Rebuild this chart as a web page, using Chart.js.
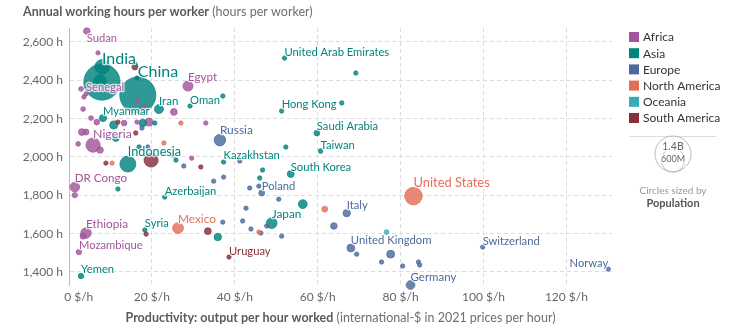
<!DOCTYPE html>
<html>
<head>
<meta charset="utf-8">
<script src="https://cdn.jsdelivr.net/npm/chart.js@4.4.1/dist/chart.umd.min.js"></script>
<style>
  html, body { margin: 0; background: #fff; }
  #wrap { width: 737px; height: 335px; position: relative; }
</style>
</head>
<body>
<div id="wrap"><canvas id="chart" width="737" height="335"></canvas></div>
<script>
// ---- data: [productivity $/h, hours per worker, population (M), label]
const africa = [
  [4.3, 2657, 47, "Sudan"], [7.0, 2543, 17, null], [28.7, 2370, 110, "Egypt"],
  [4.1, 2329, 17, "Senegal"], [2.9, 2355, 25, null], [3.6, 2313, 17, null],
  [3.4, 2250, 25, null], [16.6, 2292, 20, null], [18.1, 2261, 15, null],
  [25.3, 2235, 50, null], [5.3, 2203, 25, null], [6.7, 2182, 35, null],
  [13.3, 2177, 35, null], [16.4, 2182, 15, null], [19.3, 2182, 70, null],
  [33.0, 2177, 15, null], [3.1, 2130, 50, null], [4.1, 2130, 40, null],
  [5.8, 2062, 220, "Nigeria"], [7.5, 2036, 45, null], [2.2, 2068, 25, null],
  [29.6, 1994, 17, null], [1.4, 1843, 100, "DR Congo"], [1.4, 1801, 30, null],
  [4.1, 1603, 120, "Ethiopia"], [3.4, 1587, 40, null], [2.4, 1504, 33, "Mozambique"],
];
const asia = [
  [7.95, 2391, 1420, "India"], [16.6, 2323, 1410, "China"], [8.0, 2470, 235, null],
  [7.5, 2396, 170, null], [15.9, 2485, 17, null], [16.4, 2412, 17, null],
  [21.7, 2250, 88, "Iran"], [29.2, 2266, 17, "Oman"], [37.1, 2318, 17, null],
  [8.2, 2203, 55, "Myanmar"], [10.8, 2167, 70, null], [17.8, 2177, 60, null],
  [20.7, 2177, 17, null], [11.3, 2099, 50, null], [16.9, 2052, 17, null],
  [14.2, 1963, 275, "Indonesia"], [25.8, 1984, 17, null], [11.8, 1833, 17, null],
  [37.3, 1974, 20, "Kazakhstan"], [23.1, 1791, 17, "Azerbaijan"],
  [52.0, 2516, 17, "United Arab Emirates"], [69.2, 2438, 17, null],
  [51.3, 2240, 17, "Hong Kong"], [65.8, 2282, 17, null], [59.8, 2125, 36, "Saudi Arabia"],
  [52.3, 2052, 17, null], [60.7, 2031, 24, "Taiwan"], [46.7, 1932, 17, null],
  [53.5, 1911, 52, "South Korea"], [46.0, 1890, 17, null], [56.4, 1754, 85, null],
  [48.9, 1655, 125, "Japan"], [35.9, 1582, 60, null], [18.3, 1619, 22, "Syria"],
  [2.9, 1379, 33, "Yemen"],
];
const europe = [
  [17.6, 2151, 17, null], [19.0, 2052, 17, null], [36.4, 2088, 145, "Russia"],
  [25.1, 2010, 17, null], [27.7, 1953, 17, null], [41.2, 1979, 17, null],
  [34.9, 1874, 17, null], [37.3, 1895, 17, null], [43.6, 1838, 17, null],
  [45.8, 1848, 17, null], [46.5, 1812, 38, "Poland"], [50.6, 1780, 17, null],
  [42.7, 1733, 17, null], [37.1, 1660, 17, null], [41.9, 1666, 17, null],
  [43.9, 1624, 20, null], [46.3, 1603, 17, null], [47.7, 1640, 17, null],
  [51.3, 1587, 17, null], [67.0, 1707, 59, "Italy"], [63.9, 1640, 47, null],
  [68.0, 1525, 67, "United Kingdom"], [69.4, 1493, 17, null], [77.6, 1493, 68, null],
  [75.4, 1452, 17, null], [80.5, 1431, 17, null], [84.3, 1452, 17, null],
  [84.6, 1436, 17, null], [82.4, 1332, 84, "Germany"], [99.8, 1530, 17, "Switzerland"],
  [130.1, 1415, 17, "Norway"],
];
const northAmerica = [
  [27.0, 2177, 17, null], [22.9, 2073, 17, null], [10.4, 1968, 17, null],
  [26.3, 1629, 128, "Mexico"], [45.8, 1608, 17, null], [61.7, 1728, 38, null],
  [83.1, 1796, 335, "United States"],
];
const oceania = [
  [76.6, 1608, 26, null],
];
const southAmerica = [
  [15.9, 2470, 40, null], [11.8, 2182, 17, null], [16.1, 2125, 17, null],
  [8.9, 1968, 17, null], [19.8, 1984, 215, null], [31.8, 1948, 20, null],
  [33.5, 1613, 50, null], [38.6, 1478, 17, "Uruguay"], [18.6, 1598, 17, null],
];

const regionNames = ["Africa", "Asia", "Europe", "North America", "Oceania", "South America"];
const regionColors = ["#a2559c", "#00847e", "#4c6a9c", "#e56e5a", "#38aaba", "#883039"];
const regionRows = [africa, asia, europe, northAmerica, oceania, southAmerica];
const xTicks = [0, 20, 40, 60, 80, 100, 120];
const yTicks = [1400, 1600, 1800, 2000, 2200, 2400, 2600];

const FONT = "Lato, 'Noto Sans', sans-serif";
const radiusFor = (pop) => Math.max(2.2, 18 * Math.sqrt(pop / 1400));
const rgba = (hex, a) => {
  const n = parseInt(hex.slice(1), 16);
  return `rgba(${n >> 16},${(n >> 8) & 255},${n & 255},${a})`;
};

// one bubble set, biggest first so small countries sit on top
const points = [];
regionRows.forEach((rows, ri) => rows.forEach(([x, y, pop, name]) =>
  points.push({ x, y, r: radiusFor(pop), pop, name, region: ri })));
points.sort((a, b) => b.pop - a.pop);

function mixedText(ctx, parts, x, y, align) {
  let total = 0;
  parts.forEach((p) => { ctx.font = p.font; p.w = ctx.measureText(p.text).width; total += p.w; });
  let cx = align === "center" ? x - total / 2 : x;
  parts.forEach((p) => {
    ctx.font = p.font; ctx.fillStyle = p.color; ctx.textAlign = "left";
    ctx.fillText(p.text, cx, y); cx += p.w;
  });
}

const decor = {
  id: "decor",
  afterDatasetsDraw(chart) {
    const { ctx, chartArea: area } = chart;
    const meta = chart.getDatasetMeta(0);
    ctx.save();
    ctx.textBaseline = "alphabetic";
    meta.data.forEach((el, i) => {
      const p = points[i];
      if (!p.name) return;
      const size = Math.max(11.2, 10 + 6 * Math.sqrt(p.pop / 1400));
      ctx.font = `${size}px ${FONT}`;
      const w = ctx.measureText(p.name).width;
      let tx = el.x, ty = el.y - Math.max(p.r, 2.5);
      let align = "left";
      if (ty - size * 0.75 < area.top) ty = el.y + p.r + size * 0.72;
      if (tx + w > area.right) align = "right";
      ctx.textAlign = align;
      ctx.lineJoin = "round";
      ctx.lineWidth = 2.5;
      ctx.strokeStyle = "rgba(255,255,255,0.75)";
      ctx.strokeText(p.name, tx, ty);
      ctx.fillStyle = regionColors[p.region];
      ctx.fillText(p.name, tx, ty);
    });
    ctx.restore();
  },
  afterDraw(chart) {
    const { ctx, chartArea: area } = chart;
    ctx.save();
    ctx.textBaseline = "middle";
    // titles
    mixedText(ctx, [
      { text: "Annual working hours per worker", font: `bold 12.5px ${FONT}`, color: "#5b5b5b" },
      { text: " (hours per worker)", font: `12.5px ${FONT}`, color: "#6e6e6e" },
    ], 23, 12, "left");
    mixedText(ctx, [
      { text: "Productivity: output per hour worked", font: `bold 12.5px ${FONT}`, color: "#5b5b5b" },
      { text: " (international-$ in 2021 prices per hour)", font: `12.5px ${FONT}`, color: "#6e6e6e" },
    ], (area.left + area.right) / 2, 318, "center");

    // colour legend
    regionNames.forEach((name, i) => {
      const y = 37 + i * 16.2;
      ctx.fillStyle = regionColors[i];
      ctx.fillRect(629, y - 5, 10, 10);
      ctx.fillStyle = "#333";
      ctx.font = `12px ${FONT}`;
      ctx.textAlign = "left";
      ctx.fillText(name, 643, y + 0.5);
    });
    ctx.strokeStyle = "#ddd";
    ctx.lineWidth = 1;
    ctx.beginPath(); ctx.moveTo(629, 136.5); ctx.lineTo(716, 136.5); ctx.stroke();

    // size legend
    const cx = 673, base = 172;
    [1400, 600].forEach((pop) => {
      const r = radiusFor(pop);
      ctx.beginPath(); ctx.arc(cx, base - r, r, 0, Math.PI * 2);
      ctx.strokeStyle = "#bbb"; ctx.stroke();
    });
    ctx.textAlign = "center";
    ctx.lineWidth = 2.5; ctx.strokeStyle = "#fff";
    ctx.font = `10.5px ${FONT}`;
    ctx.strokeText("1.4B", cx, 147); ctx.fillStyle = "#666"; ctx.fillText("1.4B", cx, 147);
    ctx.font = `9px ${FONT}`;
    ctx.strokeText("600M", cx, 159); ctx.fillText("600M", cx, 159);
    ctx.font = `10px ${FONT}`; ctx.fillStyle = "#999";
    ctx.fillText("Circles sized by", cx, 191);
    ctx.font = `bold 11px ${FONT}`; ctx.fillStyle = "#555";
    ctx.fillText("Population", cx, 203);
    ctx.restore();
  },
};

new Chart(document.getElementById("chart"), {
  type: "bubble",
  data: {
    datasets: [{
      data: points,
      backgroundColor: (c) => rgba(regionColors[points[c.dataIndex].region], 0.82),
      borderColor: (c) => rgba(regionColors[points[c.dataIndex].region], 1),
      borderWidth: 0.7,
      hoverRadius: 0,
      clip: false,
    }],
  },
  options: {
    responsive: false,
    animation: false,
    devicePixelRatio: 1,
    layout: { padding: { top: 28, right: 125, bottom: 0, left: 0 } },
    plugins: { legend: { display: false }, tooltip: { enabled: false } },
    scales: {
      x: {
        type: "linear", min: 0, max: 131,
        afterBuildTicks: (s) => { s.ticks = xTicks.map((v) => ({ value: v })); },
        afterFit: (s) => { s.height = 50; },
        // the first label sits to the right of the axis, as in the original
        ticks: { callback: (v) => (v === 0 ? "\u2003\u2003\u2009" : "") + v + " $/h", color: "#666", padding: 5,
          font: { family: FONT, size: 12 }, maxRotation: 0, autoSkip: false },
        grid: { color: "#dcdcdc", drawTicks: false },
        border: { display: false, dash: [4, 3] },
      },
      y: {
        type: "linear", min: 1332, max: 2673,
        afterBuildTicks: (s) => { s.ticks = yTicks.map((v) => ({ value: v })); },
        afterFit: (s) => { s.width = 69; },
        ticks: { callback: (v) => v.toLocaleString("en-US") + " h", color: "#666", padding: 6,
          font: { family: FONT, size: 12 }, autoSkip: false },
        grid: { color: "#dcdcdc", drawTicks: false },
        border: { display: true, color: "#bbb", dash: [4, 3] },
      },
    },
  },
  plugins: [decor],
});
</script>
</body>
</html>
